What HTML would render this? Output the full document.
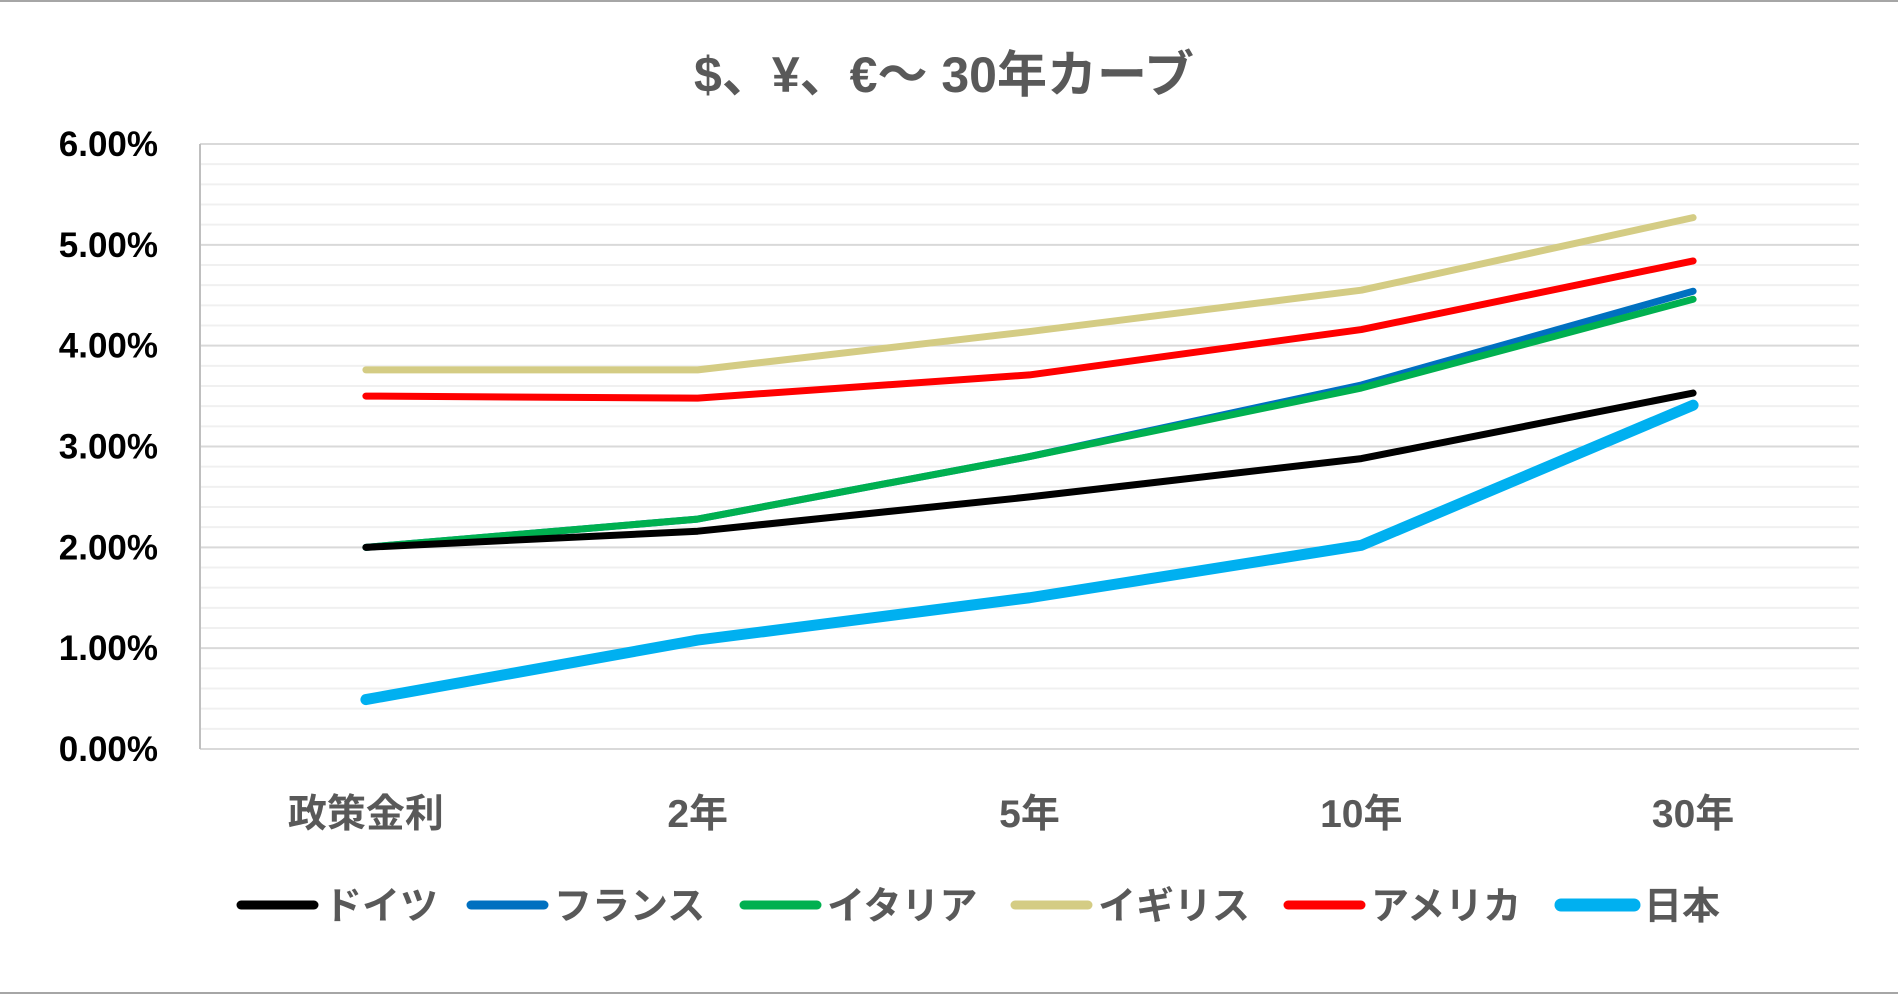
<!DOCTYPE html>
<html><head><meta charset="utf-8">
<style>
html,body{margin:0;padding:0;background:#fff;}
svg{display:block;}
text{font-family:"Liberation Sans","Noto Sans CJK JP",sans-serif;font-weight:bold;}
</style></head>
<body>
<svg id="chart" width="1898" height="994" viewBox="0 0 1898 994">
<rect x="0" y="0" width="1898" height="994" fill="#fff"/>
<line x1="0" y1="1" x2="1898" y2="1" stroke="#a6a6a6" stroke-width="2"/>
<line x1="0" y1="993" x2="1898" y2="993" stroke="#a6a6a6" stroke-width="2"/>
<text x="944" y="92" text-anchor="middle" font-size="50" fill="#595959">$、¥、€～ 30年カーブ</text>
<g id="grid"></g>
<g id="yticks"></g>
<g id="xticks"></g>
<g id="series"></g>
<g id="legend"></g>
</svg>
<script>
const categories = ["政策金利","2年","5年","10年","30年"];
const seriesNames = ["ドイツ","フランス","イタリア","イギリス","アメリカ","日本"];
const germany = [2.00, 2.16, 2.50, 2.88, 3.53];
const france  = [2.00, 2.28, 2.90, 3.61, 4.54];
const italy   = [2.00, 2.28, 2.90, 3.58, 4.46];
const uk      = [3.76, 3.76, 4.14, 4.55, 5.27];
const usa     = [3.50, 3.48, 3.71, 4.16, 4.84];
const japan   = [0.49, 1.08, 1.50, 2.02, 3.41];
const yTicks  = [0,1,2,3,4,5,6];
const yTickLabels = ["0.00%","1.00%","2.00%","3.00%","4.00%","5.00%","6.00%"];

const NS="http://www.w3.org/2000/svg";
const L=200,R=1859,T=144,B=749,yMax=6;
const y=v=>B-(v/yMax)*(B-T);
const band=(R-L)/categories.length;
const x=i=>L+band*(i+0.5);
function mk(tag,attrs,parent){const e=document.createElementNS(NS,tag);for(const k in attrs)e.setAttribute(k,attrs[k]);parent.appendChild(e);return e;}

const grid=document.getElementById('grid');
for(let m=0;m<=30;m++){
  const v=m*0.2;
  const ln=mk('line',{x1:L,x2:R,y1:y(v),y2:y(v),stroke:m%5===0?'#d9d9d9':'#f0f0f0','stroke-width':2},grid);
  
  
}
const ax=mk('line',{x1:L,x2:L,y1:T,y2:B,stroke:'#bfbfbf','stroke-width':2},grid);



const yt=document.getElementById('yticks');
yTicks.forEach((v,i)=>{
  const t=mk('text',{x:158,y:y(v)+12,'text-anchor':'end','font-size':35,fill:'#000'},yt);
  t.textContent=yTickLabels[i];
  
  
});
const xt=document.getElementById('xticks');
categories.forEach((c,i)=>{
  const t=mk('text',{x:x(i),y:827,'text-anchor':'middle','font-size':39,fill:'#595959'},xt);
  t.textContent=c;
  
  
});

const data=[germany,france,italy,uk,usa,japan];
const colors=["#000000","#0070c0","#00b050","#d4cc84","#ff0000","#00b0f0"];
const widths=[7,7,7,7,7,11];
const keys=["germany","france","italy","uk","usa","japan"];
const order=[3,4,1,2,0,5];
const sg=document.getElementById('series');
order.forEach(s=>{
  const pts=data[s].map((v,i)=>x(i)+','+y(v)).join(' ');
  const p=mk('polyline',{points:pts,fill:'none',stroke:colors[s],'stroke-width':widths[s],'stroke-linecap':'round','stroke-linejoin':'round'},sg);
  
  
});

const lg=document.getElementById('legend');
const legX=[238,468,741,1012,1285,1558];
seriesNames.forEach((n,s)=>{
  const g=mk('g',{},lg);
  
  
  mk('line',{x1:legX[s]+3,x2:legX[s]+76,y1:905,y2:905,stroke:colors[s],'stroke-width':widths[s]+2,'stroke-linecap':'round'},g);
  const t=mk('text',{x:legX[s]+86,y:919,'font-size':38,fill:'#595959'},g);
  t.textContent=n;
});
</script>
</body></html>
